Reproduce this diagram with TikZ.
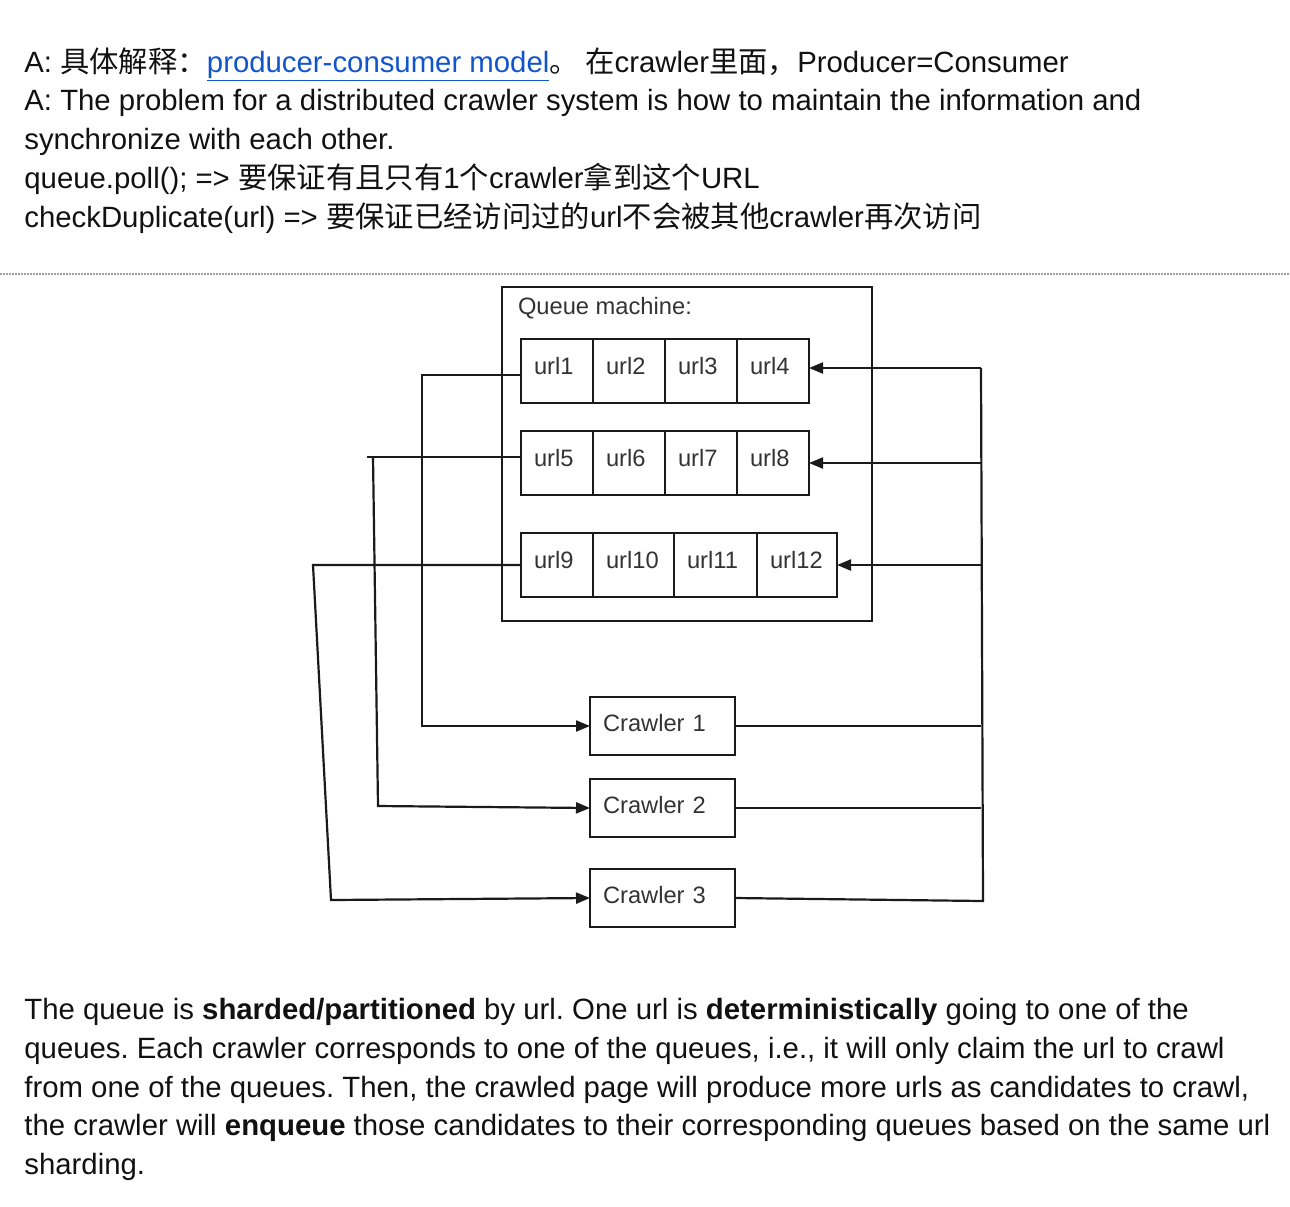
\documentclass[tikz,border=0pt]{standalone}
\usepackage{fontspec}
\setmainfont{Liberation Sans}
\newfontfamily\cjk{Noto Sans CJK SC}
\usetikzlibrary{arrows.meta,positioning}
\definecolor{linkblue}{HTML}{1155CC}
\definecolor{linec}{HTML}{1A1A1A}
\definecolor{diagtext}{HTML}{333333}
\definecolor{bodytext}{HTML}{111111}
\frenchspacing
\tikzset{
  txt/.style={anchor=base west, inner sep=0pt, text=bodytext,
    font=\fontsize{14.67pt}{19.4pt}\selectfont},
  box/.style={draw=linec, line width=1.1pt, outer sep=0pt, inner xsep=6.5pt,
    inner ysep=0pt, align=left, text=diagtext,
    font=\fontsize{11.85pt}{14pt}\selectfont},
  cell/.style={box, text width=#1, text height=17.5pt, text depth=14.5pt},
  crawler/.style={box, anchor=north west, text width=59.5pt, text height=17pt, text depth=12pt},
  wire/.style={draw=linec, line width=1.1pt},
}

\begin{document}
\begin{tikzpicture}[x=0.5pt, y=-0.5pt, >={Triangle[length=7pt,width=5.5pt]}]
	\useasboundingbox (0,0) rectangle (1290,1206);
	% header text
	\node[txt] (t1) at (24,72) {A: {\cjk 具体解释：}\textcolor{linkblue}{\underline{producer-consumer model}}{\cjk 。 在}crawler{\cjk 里面，}Producer=Consumer};
	\node[txt] (t2) at (24,110) {A: The problem for a distributed crawler system is how to maintain the information and};
	\node[txt] (t3) at (24,149) {synchronize with each other.};
	\node[txt] (t4) at (24,188) {queue.poll(); => {\cjk 要保证有且只有}1{\cjk 个}crawler{\cjk 拿到这个}URL};
	\node[txt] (t5) at (24,227) {checkDuplicate(url) => {\cjk 要保证已经访问过的}url{\cjk 不会被其他}crawler{\cjk 再次访问}};
	\draw [gray!75, line width=0.7pt, dash pattern=on 0.8pt off 0.7pt] (0,274) -- (1290,274);
	% queue machine
	\node[box, anchor=north west, minimum width=185pt, minimum height=167pt] (q) at (502,287) {};
	\node[box, draw=none, anchor=base west, inner sep=0pt] (ql) at (518,314) {Queue machine:};
	\node[cell=23pt, anchor=north west] (u1) at (521,339) {url1};
	\node[cell=23pt, right=0pt of u1] (u2) {url2};
	\node[cell=23pt, right=0pt of u2] (u3) {url3};
	\node[cell=23pt, right=0pt of u3] (u4) {url4};
	\node[cell=23pt, anchor=north west] (u5) at (521,431) {url5};
	\node[cell=23pt, right=0pt of u5] (u6) {url6};
	\node[cell=23pt, right=0pt of u6] (u7) {url7};
	\node[cell=23pt, right=0pt of u7] (u8) {url8};
	\node[cell=23pt, anchor=north west] (u9) at (521,533) {url9};
	\node[cell=27.5pt, right=0pt of u9] (u10) {url10};
	\node[cell=28.5pt, right=0pt of u10] (u11) {url11};
	\node[cell=27pt, right=0pt of u11] (u12) {url12};
	% crawlers
	\node[crawler] (c1) at (590,697) {Crawler 1};
	\node[crawler] (c2) at (590,779) {Crawler 2};
	\node[crawler] (c3) at (590,869) {Crawler 3};
	% queue -> crawler
	\coordinate (l1) at (422,0);
	\coordinate (l2a) at (373,457);
	\coordinate (l2b) at (378,806);
	\coordinate (l3a) at (313,565);
	\coordinate (l3b) at (331,900);
	\draw [wire,->] ([yshift=-2pt]u1.west) -| (l1 |- c1.west) -- (c1.west);
	\draw [wire] ([yshift=3pt]u5.west) -- ++(-154,0);
	\draw [wire,->] (l2a) -- (l2b) -- (c2.west);
	\draw [wire,->] (u9.west) -- (l3a) -- (l3b) -- (c3.west);
	% crawler -> queue
	\coordinate (rt) at (981,368);
	\coordinate (rb) at (983,901);
	\draw [wire] (c1.east) -- (c1.east -| rt);
	\draw [wire] (c2.east) -- (c2.east -| rt);
	\draw [wire] (c3.east) -- (rb) -- (rt);
	\draw [wire,->] (rt) -- (u4.east |- rt);
	\draw [wire,->] (rt |- u8.east) -- (u8.east);
	\draw [wire,->] (rt |- u12.east) -- (u12.east);
	% footer text
	\node[txt] (b1) at (24,1019) {The queue is \textbf{sharded/partitioned} by url. One url is \textbf{deterministically} going to one of the};
	\node[txt] (b2) at (24,1058) {queues. Each crawler corresponds to one of the queues, i.e., it will only claim the url to crawl};
	\node[txt] (b3) at (24,1097) {from one of the queues. Then, the crawled page will produce more urls as candidates to crawl,};
	\node[txt] (b4) at (24,1135) {the crawler will \textbf{enqueue} those candidates to their corresponding queues based on the same url};
	\node[txt] (b5) at (24,1174) {sharding.};
\end{tikzpicture}
\end{document}
